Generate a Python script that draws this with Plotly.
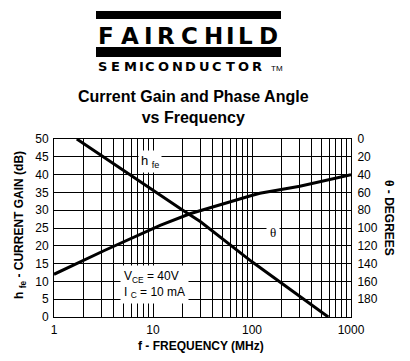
import plotly.graph_objects as go

# ---- data ----
hfe_freq = [1.7, 10, 20, 30, 100, 590]
hfe_db = [50, 35.5, 30, 26.8, 15.5, 0]

theta_freq = [1, 3.27, 11.8, 23.6, 95, 120, 304, 1000]
theta_deg = [152, 125, 97, 84, 64, 61, 53, 40]

x_tick_vals = [1, 10, 100, 1000]
x_tick_labels = ["1", "10", "100", "1000"]
left_ticks = list(range(0, 55, 5))
right_ticks = list(range(0, 200, 20))

FONT = "Liberation Sans, Arial, sans-serif"
L, R, T, B = 54, 351, 139, 317
W, H = 410, 361


def px(xp):
    return (xp - L) / (R - L)


def py(yp):
    return (B - yp) / (B - T)


x_minor = [m * 10 ** d for d in range(3) for m in range(2, 10)]

fig = go.Figure()
fig.add_trace(go.Scatter(x=hfe_freq, y=hfe_db, mode="lines",
                         line=dict(color="black", width=3), yaxis="y",
                         showlegend=False, hoverinfo="skip"))
fig.add_trace(go.Scatter(x=theta_freq, y=theta_deg, mode="lines",
                         line=dict(color="black", width=3), yaxis="y2",
                         showlegend=False, hoverinfo="skip"))

ann = []
# Logo letters
fair = "FAIRCHILD"
fair_x = [106, 129.5, 148, 165.5, 189, 213, 230, 245, 268]
for ch, xc in zip(fair, fair_x):
    ann.append(dict(text=ch, x=px(xc), y=py(35.5), xref="paper", yref="paper",
                    showarrow=False, xanchor="center", yanchor="middle",
                    font=dict(family="DejaVu Sans, sans-serif", size=23, color="black", weight="bold")))
semi = "SEMICONDUCTOR"
wts = [1, 1, 1.25, 0.35, 1, 1.1, 1, 1, 1, 1, 0.95, 1.1, 1]
x0s, x1s = 96, 264
tot = sum(wts)
cur = x0s
for ch, w in zip(semi, wts):
    wpx = w / tot * (x1s - x0s)
    ann.append(dict(text=ch, x=px(cur + wpx / 2), y=py(66.5), xref="paper", yref="paper",
                    showarrow=False, xanchor="center", yanchor="middle",
                    font=dict(family="DejaVu Sans, sans-serif", size=13, color="black", weight="bold")))
    cur += wpx
ann.append(dict(text="TM", x=px(269), y=py(68), xref="paper", yref="paper",
                showarrow=False, xanchor="left", yanchor="middle",
                font=dict(family=FONT, size=8, color="black")))

# Title
ann.append(dict(text="<b>Current Gain and Phase Angle</b><br><b>vs Frequency</b>",
                x=px(193), y=py(107), xref="paper", yref="paper", showarrow=False,
                xanchor="center", yanchor="middle",
                font=dict(family=FONT, size=16, color="black")))

# Axis titles
ann.append(dict(text="<b>h <sub>fe</sub> - CURRENT GAIN (dB)</b>", x=px(20), y=py(225),
                xref="paper", yref="paper", showarrow=False, textangle=-90,
                xanchor="center", yanchor="middle",
                font=dict(family=FONT, size=12, color="black")))
ann.append(dict(text="<b>θ - DEGREES</b>", x=px(389), y=py(218),
                xref="paper", yref="paper", showarrow=False, textangle=90,
                xanchor="center", yanchor="middle",
                font=dict(family=FONT, size=12, color="black")))
ann.append(dict(text="<b>f - FREQUENCY (MHz)</b>", x=px(201), y=py(346),
                xref="paper", yref="paper", showarrow=False,
                xanchor="center", yanchor="middle",
                font=dict(family=FONT, size=12, color="black")))

# Curve labels
ann.append(dict(text="h <sub>fe</sub>", x=px(150), y=py(161), xref="paper", yref="paper",
                showarrow=False, xanchor="center", yanchor="middle", bgcolor="white",
                borderpad=2, font=dict(family=FONT, size=13, color="black")))
ann.append(dict(text="θ", x=px(273), y=py(232), xref="paper", yref="paper",
                showarrow=False, xanchor="center", yanchor="middle", bgcolor="white",
                borderpad=3, font=dict(family="Liberation Serif, serif", size=13, color="black")))
ann.append(dict(text="V<sub>CE</sub> = 40V<br>I <sub>C</sub> = 10 mA", x=px(154), y=py(284),
                xref="paper", yref="paper", showarrow=False, xanchor="center",
                yanchor="middle", align="left", bgcolor="white", borderpad=3,
                font=dict(family=FONT, size=12, color="black")))

# Logo bars
shapes = [
    dict(type="rect", xref="paper", yref="paper", x0=px(96), x1=px(281), y0=py(19), y1=py(11),
         fillcolor="black", line=dict(width=0)),
    dict(type="rect", xref="paper", yref="paper", x0=px(96), x1=px(281), y0=py(57), y1=py(47),
         fillcolor="black", line=dict(width=0)),
]

fig.update_layout(
    width=W, height=H,
    margin=dict(l=L, r=W - R, t=T, b=H - B),
    paper_bgcolor="white", plot_bgcolor="white",
    font=dict(family=FONT, size=12, color="black"),
    annotations=ann, shapes=shapes,
    xaxis=dict(type="log", range=[0, 3], tickvals=x_tick_vals, ticktext=x_tick_labels,
               showgrid=True, gridcolor="black", gridwidth=1,
               minor=dict(tickvals=x_minor, showgrid=True, gridcolor="black", gridwidth=1,
                          ticks=""),
               showline=True, linecolor="black", linewidth=1, mirror=True,
               ticks="outside", ticklen=2, tickcolor="rgba(0,0,0,0)",
               tickfont=dict(size=12), zeroline=False),
    yaxis=dict(range=[0, 50], tickvals=left_ticks, showgrid=True, gridcolor="black",
               gridwidth=1, showline=True, linecolor="black", linewidth=1, mirror=True,
               ticks="outside", ticklen=2, tickcolor="rgba(0,0,0,0)",
               tickfont=dict(size=12), zeroline=False),
    yaxis2=dict(range=[200, 0], tickvals=right_ticks, overlaying="y", side="right",
                showgrid=False, showline=False, ticks="outside", ticklen=3,
                tickcolor="rgba(0,0,0,0)", tickfont=dict(size=12), zeroline=False),
)

fig.write_html("out.html", config={"displayModeBar": False, "staticPlot": True},
               post_script="document.body.style.margin='0';document.body.style.padding='0';")
